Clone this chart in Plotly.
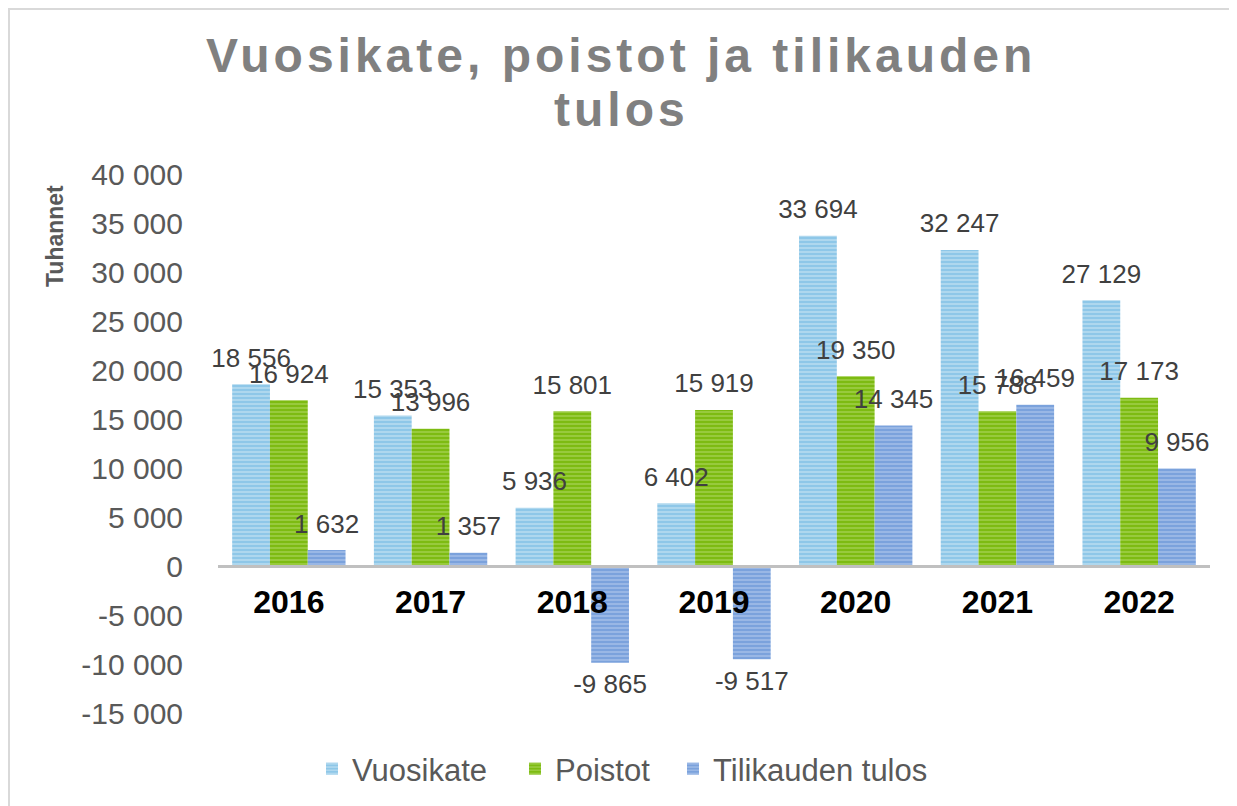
import plotly.graph_objects as go

years = ["2016", "2017", "2018", "2019", "2020", "2021", "2022"]
vuosikate = [18556, 15353, 5936, 6402, 33694, 32247, 27129]
poistot = [16924, 13996, 15801, 15919, 19350, 15788, 17173]
tulos = [1632, 1357, -9865, -9517, 14345, 16459, 9956]
series_names = ["Vuosikate", "Poistot", "Tilikauden tulos"]
y_ticks = [-15000, -10000, -5000, 0, 5000, 10000, 15000, 20000, 25000, 30000, 35000, 40000]
title_lines = ["Vuosikate, poistot ja tilikauden", "tulos"]

def fmt(v):
    return f"{v:,}".replace(",", " ")

FONT = "Liberation Sans, Arial"
styles = [
    dict(color="#8ec7e8", fg="#d6ecf8"),
    dict(color="#7dbb12", fg="#b8dc72"),
    dict(color="#7ba2dc", fg="#bcd0f0"),
]

# page offset (browser body margin)
OFF = 8
W, H = 1237 - OFF, 806 - OFF
PL, PT, PR, PB = 218, 174, 1210, 713          # plot area in page pixels
L, T = PL - OFF, PT - OFF
R, B = W - (PR - OFF), H - (PB - OFF)
pw, ph = W - L - R, H - T - B

def px_x(x):
    return (x - OFF - L) / pw

def px_y(y):
    return (H - B - (y - OFF)) / ph

legend_ids = ["legend", "legend2", "legend3"]
legend_left = [312, 515, 673]   # page pixels of each legend entry's left edge

fig = go.Figure()
for name, vals, st, lg in zip(series_names, [vuosikate, poistot, tulos], styles, legend_ids):
    fig.add_trace(go.Bar(
        x=years, y=vals, name=name, legend=lg,
        marker=dict(color=st["color"], line=dict(width=0),
                    pattern=dict(shape="-", fgcolor=st["fg"], bgcolor=st["color"], size=4, solidity=0.45)),
    ))
for name, vals in zip(series_names, [vuosikate, poistot, tulos]):
    fig.add_trace(go.Scatter(
        x=years, y=vals, mode="markers+text", showlegend=False, hoverinfo="skip",
        text=[fmt(v) for v in vals],
        textposition=["top center" if v >= 0 else "bottom center" for v in vals],
        textfont=dict(size=26, color="#404040", family=FONT),
        marker=dict(size=16, opacity=0),
        cliponaxis=False,
    ))

annotations = [dict(text="<b>Tuhannet</b>", textangle=-90, xref="paper", yref="paper",
                    x=px_x(55), y=px_y(236), xanchor="center", yanchor="middle",
                    showarrow=False, font=dict(size=23, color="#595959", family=FONT))]
for line, yc in zip(title_lines, [56, 110]):
    annotations.append(dict(text=f"<b><span style='letter-spacing:4px'>{line}</span></b>",
                            xref="paper", yref="paper",
                            x=px_x(621), y=px_y(yc), xanchor="center", yanchor="middle",
                            showarrow=False,
                            font=dict(size=48, color="#808080", family=FONT)))

legend_layouts = {}
for lg, lx in zip(legend_ids, legend_left):
    legend_layouts[lg] = dict(orientation="h", x=px_x(lx), xanchor="left", y=px_y(769),
                              yanchor="middle", font=dict(size=31, color="#595959", family=FONT),
                              bgcolor="rgba(0,0,0,0)")

fig.update_layout(
    width=W, height=H,
    margin=dict(l=L, r=R, t=T, b=B, autoexpand=False),
    paper_bgcolor="white", plot_bgcolor="white",
    font=dict(family=FONT, color="#595959"),
    barmode="group", bargap=0.2, bargroupgap=0,
    scattermode="group", scattergap=0.2,
    showlegend=True,
    xaxis=dict(anchor="free", position=(0 - (-15000)) / (40000 - (-15000)),
               showline=True, linecolor="#c0c0c0", linewidth=3,
               ticks="", showgrid=False, zeroline=False,
               tickfont=dict(size=32, color="#000000", family=FONT, weight="bold"),
               ticklabelstandoff=7),
    yaxis=dict(range=[-15000, 40000], tickvals=y_ticks, ticktext=[fmt(v) for v in y_ticks],
               showgrid=False, zeroline=False, showline=False, ticks="",
               tickfont=dict(size=30, color="#595959", family=FONT), ticklabelstandoff=34),
    shapes=[dict(type="rect", xref="paper", yref="paper",
                 x0=px_x(OFF + 1), x1=px_x(1260),
                 y0=px_y(830), y1=px_y(OFF + 1),
                 line=dict(color="#d9d9d9", width=2), fillcolor="rgba(0,0,0,0)", layer="below")],
    annotations=annotations,
    **legend_layouts,
)

fig.write_html("out.html")
